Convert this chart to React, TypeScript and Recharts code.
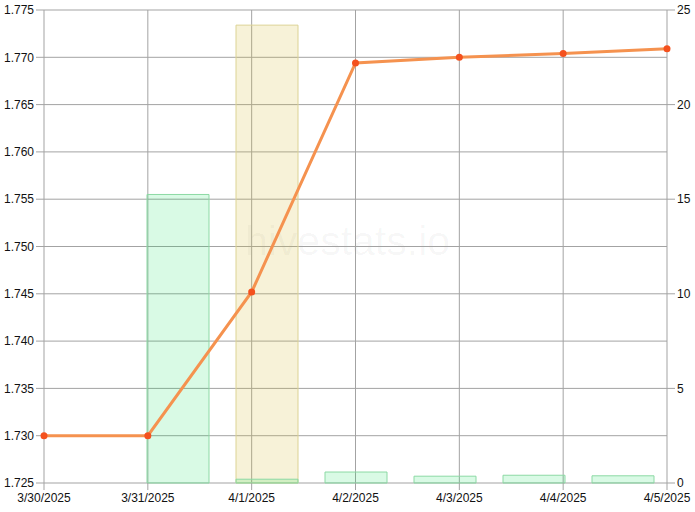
import {
  ComposedChart,
  Bar,
  Line,
  XAxis,
  YAxis,
  CartesianGrid,
} from 'recharts';

if (typeof document !== 'undefined') document.body.style.margin = '0';

const DATES = ['3/30/2025', '3/31/2025', '4/1/2025', '4/2/2025', '4/3/2025', '4/4/2025', '4/5/2025'];
const PRICE = [1.73, 1.73, 1.7452, 1.7694, 1.77, 1.7704, 1.7709];
const GREEN_VOL: (number | null)[] = [null, 15.25, 0.2, 0.58, 0.36, 0.41, 0.38];
const YELLOW_VOL: (number | null)[] = [null, null, 24.2, null, null, null, null];
const LEFT_TICKS = [1.725, 1.73, 1.735, 1.74, 1.745, 1.75, 1.755, 1.76, 1.765, 1.77, 1.775];
const RIGHT_TICKS = [0, 5, 10, 15, 20, 25];

const data = DATES.map((date, i) => ({
  i,
  date,
  price: PRICE[i],
  green: GREEN_VOL[i],
  yellow: YELLOW_VOL[i],
}));

const GRID = '#a3a3a3';
const tickStyle = { fontSize: 12, fill: '#111', fontFamily: '"Liberation Sans", Arial, sans-serif' };

export default function App() {
  return (
    <div style={{ position: 'relative', width: 695, height: 512, background: '#fff' }}>
      <div
        style={{
          position: 'absolute',
          left: 0,
          width: 695,
          top: 218,
          textAlign: 'center',
          fontFamily: '"Liberation Sans", Arial, sans-serif',
          fontSize: 41,
          color: 'rgba(0,0,0,0.04)',
        }}
      >
        hivestats.io
      </div>
      <div style={{ position: 'absolute', left: 0, top: 0 }}>
        <ComposedChart width={695} height={512} data={data} margin={{ top: 10, right: 0, left: 0, bottom: 0 }}>
          <CartesianGrid xAxisId="line" yAxisId="left" stroke={GRID} strokeOpacity={1} />

          <XAxis
            xAxisId="line"
            dataKey="i"
            type="number"
            domain={[0, 6]}
            ticks={[0, 1, 2, 3, 4, 5, 6]}
            tickFormatter={(v: number) => DATES[v]}
            interval={0}
            height={29}
            axisLine={false}
            tickLine={{ stroke: GRID }}
            tickSize={7}
            tickMargin={3}
            tick={tickStyle}
          />
          <XAxis xAxisId="bar" dataKey="date" type="category" hide height={0} />
          <XAxis xAxisId="bar2" dataKey="date" type="category" hide height={0} />

          <YAxis
            yAxisId="left"
            domain={[1.725, 1.775]}
            ticks={LEFT_TICKS}
            tickFormatter={(v: number) => v.toFixed(3)}
            interval={0}
            width={44}
            axisLine={false}
            tickLine={{ stroke: GRID }}
            tickSize={8}
            tickMargin={2}
            tick={tickStyle}
          />
          <YAxis
            yAxisId="right"
            orientation="right"
            domain={[0, 25]}
            ticks={RIGHT_TICKS}
            interval={0}
            width={28}
            axisLine={false}
            tickLine={{ stroke: GRID }}
            tickSize={8}
            tickMargin={2}
            tick={tickStyle}
          />

          <Bar
            xAxisId="bar2"
            yAxisId="right"
            dataKey="yellow"
            barSize={62}
            fill="rgb(215,190,60)"
            fillOpacity={0.2}
            stroke="#dcd394"
            isAnimationActive={false}
          />
          <Bar
            xAxisId="bar"
            yAxisId="right"
            dataKey="green"
            barSize={62}
            fill="rgb(0,220,80)"
            fillOpacity={0.15}
            stroke="#8cd9a4"
            isAnimationActive={false}
          />
          <Line
            xAxisId="line"
            yAxisId="left"
            dataKey="price"
            stroke="#f5924f"
            strokeWidth={3}
            dot={{ r: 3.5, fill: '#f4511e', stroke: 'none' }}
            activeDot={false}
            isAnimationActive={false}
          />
        </ComposedChart>
      </div>
    </div>
  );
}
